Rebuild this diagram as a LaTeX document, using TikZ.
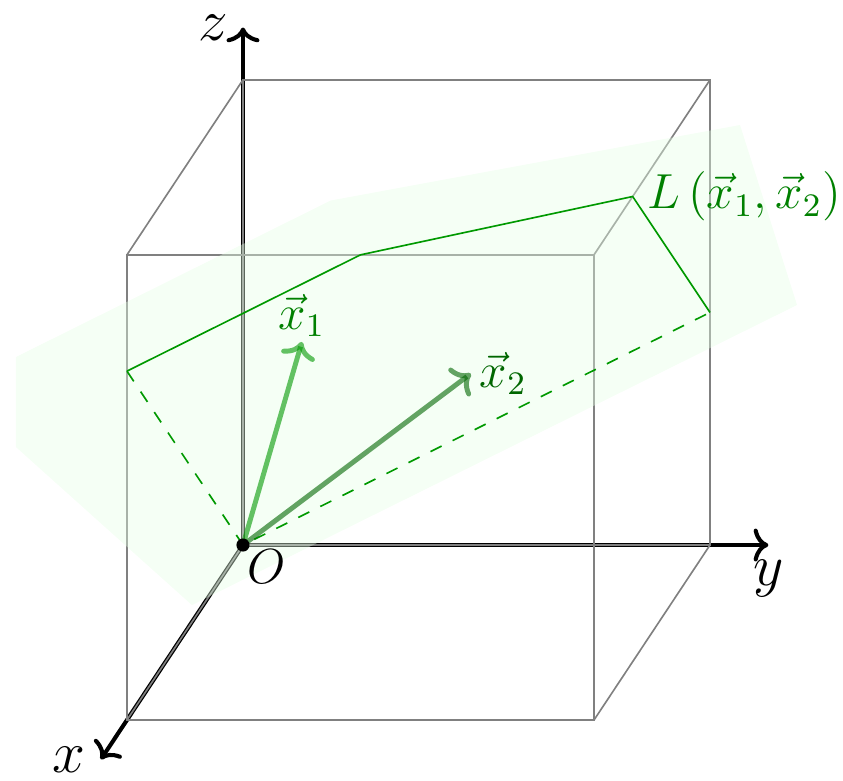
\documentclass[tikz,border=0pt]{standalone}
\usepackage{amsmath,amssymb}
\usepackage{xcolor}
\usepackage{tikz}
\usetikzlibrary{arrows.meta}

\begin{document}
\begin{tikzpicture}[
  x={(-0.2484cm,-0.3747cm)}, y={(1cm,0cm)}, z={(0cm,0.996cm)},
  axis/.style={line width=1pt, -{Computer Modern Rightarrow[length=3.6pt, width=8pt]}},
  edge/.style={gray, line width=0.4pt},
  plane/.style={fill=green!10, fill opacity=0.4},
  trace/.style={green!60!black, line width=0.4pt},
  vecarr/.style={line width=1.2pt, draw opacity=0.6, -{Computer Modern Rightarrow[length=4pt, width=8.5pt]}},
  lbl/.style={font=\Large, inner xsep=3.5pt, inner ysep=1pt},
  vlbl/.style={font=\large},
]
\useasboundingbox (-2.081cm,-2.013cm) rectangle (5.139cm,4.668cm);

% --- points ----------------------------------------------------------------
\coordinate (O) at (0,0,0);
\coordinate (xt) at (4.9,0,0);
\coordinate (yt) at (0,4.5,0);
\coordinate (zt) at (0,0,4.45);
\coordinate (pa) at (4,0,3);
\coordinate (pb) at (4,2,4);
\coordinate (pc) at (8/3,4,4);
\coordinate (pd) at (0,4,2);
\coordinate (v1) at (3,1.25,2.875);
\coordinate (v2) at (1,2.2,1.85);

% --- axes ------------------------------------------------------------------
\draw[axis] (O) -- (xt);
\draw[axis] (O) -- (yt);
\draw[axis] (O) -- (zt);

% --- cube ------------------------------------------------------------------
\draw[edge] (0,0,0) -- (0,4,0) -- (0,4,4) -- (0,0,4) -- cycle;
\draw[edge] (4,0,0) -- (4,4,0) -- (4,4,4) -- (4,0,4) -- cycle;
\foreach \b/\c in {0/0,4/0,4/4,0/4}
  \draw[edge] (0,\b,\c) -- (4,\b,\c);

% --- the plane, drawn over cube and axes -----------------------------------
\fill[plane] (-1.944cm,1.610cm) -- (0.75cm,2.95cm) -- (4.257cm,3.597cm)
  -- (4.745cm,2.056cm) -- (-0.437cm,-0.514cm) -- (-1.944cm,0.839cm) -- cycle;

% --- where the plane cuts the cube -----------------------------------------
\draw[trace] (pa) -- (pb) -- (pc) -- (pd);
\draw[trace, dashed] (pa) -- (O) -- (pd);

% --- vectors ---------------------------------------------------------------
\draw[vecarr, green!60!black] (O) -- (v1);
\draw[vecarr, green!40!black] (O) -- (v2);

% --- labels ----------------------------------------------------------------
\node[lbl, left] at (zt) {$z$};
\node[lbl, below, inner ysep=3.5pt] at (yt) {$y$};
\node[lbl, left] at (xt) {$x$};
\node[vlbl, above, inner sep=1pt, text=green!50!black] at (v1) {$\vec{x}_1$};
\node[vlbl, right, inner sep=2pt, text=green!40!black] at (v2) {$\vec{x}_2$};
\node[vlbl, right, text=green!50!black] at (pc) {$L\left(\vec{x}_1, \vec{x}_2\right)$};
\fill (O) circle (1.6pt);
\node[vlbl, below right, inner sep=1pt] at (O) {$O$};
\end{tikzpicture}
\end{document}
